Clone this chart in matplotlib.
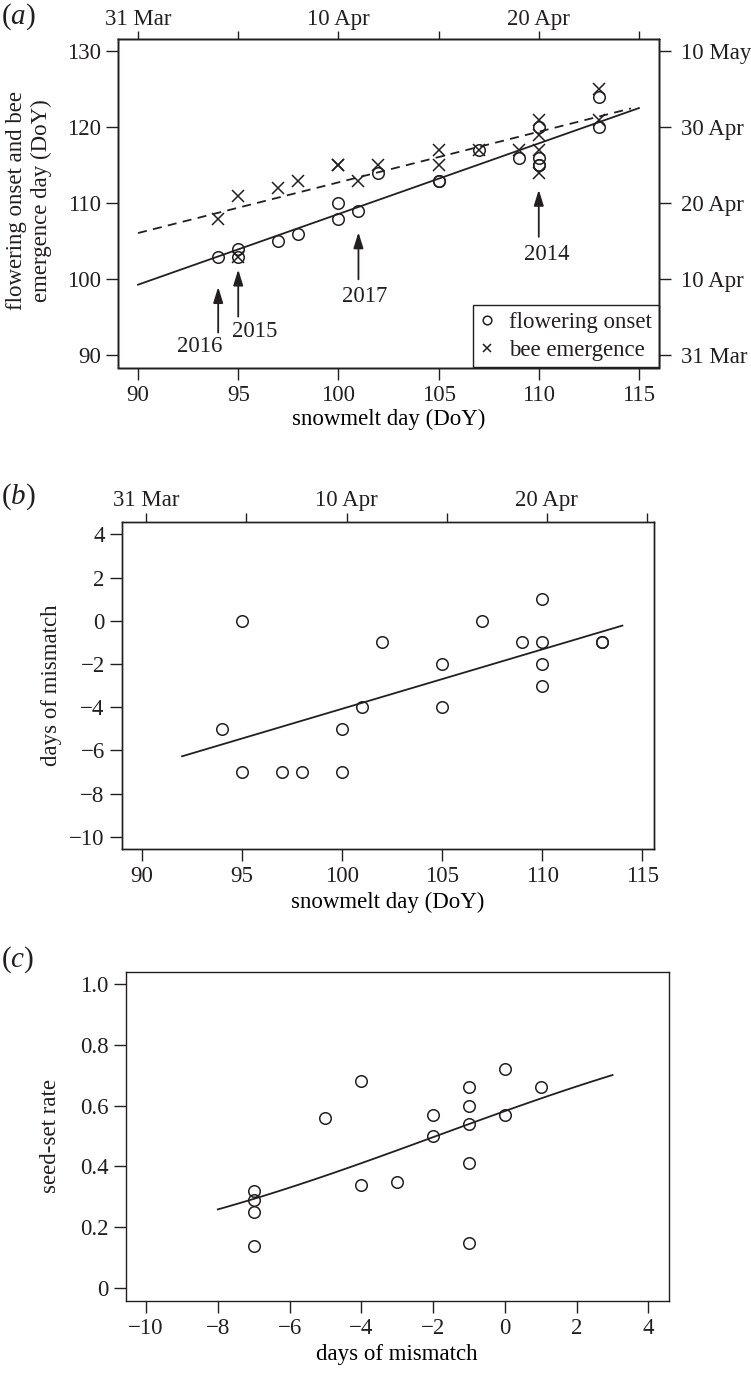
import numpy as np
import matplotlib
matplotlib.use("Agg")
import matplotlib.pyplot as plt

# ---------------- data ----------------
snowmelt = [94, 95, 95, 97, 98, 100, 100, 101, 102, 105, 105, 107, 109, 110, 110, 110, 110, 113, 113]
flowering = [103, 104, 103, 105, 106, 110, 108, 109, 114, 113, 113, 117, 116, 120, 116, 115, 115, 124, 120]
bee = [108, 111, 103, 112, 113, 115, 115, 113, 115, 117, 115, 117, 117, 121, 119, 117, 114, 125, 121]
mismatch = [f - b for f, b in zip(flowering, bee)]

mismatch_c = [-7, -7, -7, -7, -5, -4, -4, -3, -2, -2, -1, -1, -1, -1, -1, 0, 0, 1]
seedset = [0.32, 0.29, 0.25, 0.14, 0.56, 0.68, 0.34, 0.35, 0.57, 0.50, 0.66, 0.60, 0.54, 0.41, 0.15, 0.72, 0.57, 0.66]

# fitted lines
flower_fit_x = [90, 115]
flower_fit_y = [99.3, 122.55]
bee_fit_x = [90, 114.6]
bee_fit_y = [106.1, 122.5]
mis_fit_x = [92, 114]
mis_fit_y = [-6.27, -0.22]
seed_logit_intercept = 0.330
seed_logit_slope = 0.1726
seed_fit_range = [-8, 3]

year_labels = ["2016", "2015", "2017", "2014"]
year_arrow_x = [94, 95, 101, 110]
year_arrow_tail = [93.0, 95.1, 100.0, 105.6]
year_arrow_tip = [99.0, 101.3, 106.2, 111.8]
year_text_x = [93.1, 95.8, 101.3, 110.4]
year_text_y = [91.1, 93.2, 97.8, 103.3]

top_date_labels = ["31 Mar", "", "10 Apr", "", "20 Apr", ""]
right_ticks = [90, 100, 110, 120, 130]
right_labels = ["31 Mar", "10 Apr", "20 Apr", "30 Apr", "10 May"]

# ---------------- style ----------------
FS = 16.5
plt.rcParams["font.family"] = ["Liberation Serif", "DejaVu Serif"]
plt.rcParams["mathtext.fontset"] = "custom"
plt.rcParams["mathtext.rm"] = "Liberation Serif"
plt.rcParams["mathtext.it"] = "Liberation Serif:italic"
plt.rcParams["font.size"] = FS
plt.rcParams["axes.unicode_minus"] = True
INK = "#231f20"
plt.rcParams["text.color"] = INK
plt.rcParams["axes.edgecolor"] = INK
plt.rcParams["xtick.color"] = INK
plt.rcParams["ytick.color"] = INK

W, H = 751, 1373
fig = plt.figure(figsize=(W / 100, H / 100), dpi=100)


def axes_px(left, right, top, bottom):
    return fig.add_axes([left / W, 1 - bottom / H, (right - left) / W, (bottom - top) / H])


def fxy(x, y):
    return x / W, 1 - y / H


def style(ax, length=8.5, pad=4.0):
    for s in ax.spines.values():
        s.set_linewidth(1.0)
    ax.tick_params(direction="out", length=length, width=1.0, pad=pad, labelsize=FS)


ms = 8.3
mew = 1.1
lw = 1.3
arrow_style = "-|>,head_length=1.35,head_width=0.42"

# ---------------- panel a ----------------
axa = axes_px(118, 659, 39.3, 367.5)
style(axa)
axa.plot(snowmelt, flowering, linestyle="none", marker="o", ms=ms, mfc="none", mec=INK, mew=mew,
         label="flowering onset")
axa.plot(snowmelt, bee, linestyle="none", marker="x", ms=ms, mec=INK, mew=mew, label="bee emergence")
axa.plot(flower_fit_x, flower_fit_y, color=INK, lw=lw)
axa.plot(bee_fit_x, bee_fit_y, color=INK, lw=lw, linestyle=(0, (5, 3.5)))
axa.set_xlim(89, 116)
axa.set_ylim(88.4, 131.6)
axa.set_xticks(np.arange(90, 116, 5))
axa.set_yticks(np.arange(90, 131, 10))
for lab, ax_x, tail, tip, tx, ty in zip(year_labels, year_arrow_x, year_arrow_tail, year_arrow_tip,
                                         year_text_x, year_text_y):
    axa.annotate("", xy=(ax_x, tip), xytext=(ax_x, tail),
                 arrowprops=dict(arrowstyle=arrow_style, color=INK, lw=1.3, mutation_scale=7,
                                 shrinkA=0, shrinkB=0))
    axa.text(tx, ty, lab, ha="center", va="center", fontsize=FS)
leg = axa.legend(loc="lower right", borderaxespad=0, fancybox=False, edgecolor=INK, framealpha=1,
                 handlelength=0.7, handletextpad=0.6, borderpad=0.3, labelspacing=0.3,
                 fontsize=FS, markerscale=0.75)
leg.get_frame().set_linewidth(1.0)

axa_top = axa.twiny()
axa_top.set_xlim(axa.get_xlim())
axa_top.set_xticks(np.arange(90, 116, 5))
axa_top.set_xticklabels(top_date_labels)
style(axa_top, length=5.5, pad=1)
axa_right = axa.twinx()
axa_right.set_ylim(axa.get_ylim())
axa_right.set_yticks(right_ticks)
axa_right.set_yticklabels(right_labels)
style(axa_right, pad=7)

fig.text(*fxy(29, 201), "flowering onset and bee\nemergence day (DoY)", rotation=90,
         ha="center", va="center", fontsize=FS, linespacing=1.2)
axa.set_xlabel("snowmelt day (DoY)", labelpad=2)
fig.text(*fxy(1, 17), r"($a$)", ha="left", va="center", fontsize=21)

# ---------------- panel b ----------------
axb = axes_px(122, 654, 522.3, 849)
style(axb)
axb.plot(snowmelt, mismatch, linestyle="none", marker="o", ms=ms, mfc="none", mec=INK, mew=mew)
axb.plot(mis_fit_x, mis_fit_y, color=INK, lw=lw)
axb.set_xlim(89, 115.58)
axb.set_ylim(-10.56, 4.56)
axb.set_xticks(np.arange(90, 116, 5))
axb.set_yticks(np.arange(-10, 5, 2))
axb_top = axb.twiny()
axb_top.set_xlim(axb.get_xlim())
axb_top.set_xticks(np.arange(90, 116, 5) + 0.22)
axb_top.set_xticklabels(top_date_labels)
style(axb_top, length=6.5, pad=1.5)
fig.text(*fxy(52, 685), "days of mismatch", rotation=90, ha="center", va="center", fontsize=FS)
axb.set_xlabel("snowmelt day (DoY)", labelpad=3)
fig.text(*fxy(1, 497), r"($b$)", ha="left", va="center", fontsize=21)

# ---------------- panel c ----------------
axc = axes_px(126, 668.5, 971.5, 1300.5)
style(axc)
axc.plot(mismatch_c, seedset, linestyle="none", marker="o", ms=ms, mfc="none", mec=INK, mew=mew)
xc = np.linspace(seed_fit_range[0], seed_fit_range[1], 100)
yc = 1 / (1 + np.exp(-(seed_logit_intercept + seed_logit_slope * xc)))
axc.plot(xc, yc, color=INK, lw=lw)
axc.set_xlim(-10.56, 4.56)
axc.set_ylim(-0.04, 1.04)
axc.set_xticks(np.arange(-10, 5, 2))
axc.set_yticks(np.arange(0, 1.01, 0.2))
axc.set_yticklabels(["0", "0.2", "0.4", "0.6", "0.8", "1.0"])
fig.text(*fxy(50, 1136), "seed-set rate", rotation=90, ha="center", va="center", fontsize=FS)
axc.set_xlabel("days of mismatch", labelpad=4)
fig.text(*fxy(1, 960), r"($c$)", ha="left", va="center", fontsize=21)

fig.savefig("out.png", dpi=100)
